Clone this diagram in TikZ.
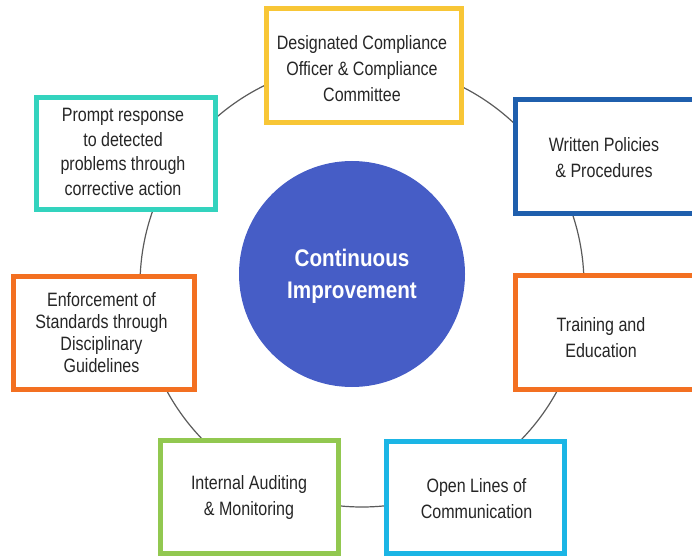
\documentclass[tikz,border=0pt]{standalone}
\usepackage{fontspec}
\setmainfont{Liberation Sans}
\newfontfamily\boxfont[FakeStretch=0.83]{Liberation Sans}
\newfontfamily\hubfont[FakeStretch=0.86]{Liberation Sans}

\definecolor{ringgray}{HTML}{5A5A5A}
\definecolor{txtgray}{HTML}{262626}
\definecolor{hubblue}{HTML}{465DC6}
\definecolor{cyellow}{HTML}{F8C636}
\definecolor{cblue}{HTML}{1F5FAD}
\definecolor{corange}{HTML}{F37021}
\definecolor{ccyan}{HTML}{1BB5E5}
\definecolor{cgreen}{HTML}{92C850}
\definecolor{cteal}{HTML}{33D3BE}

\tikzset{every picture/.style={line width=0.75pt}}
\tikzset{stagebox/.style={draw, fill=white, line width=3.75pt, inner sep=0pt},
  boxtext/.style={align=center, inner sep=0pt, text=txtgray, font=\boxfont\fontsize{14.5}{19.5}\selectfont}}

\begin{document}
\begin{tikzpicture}[x=0.75pt,y=0.75pt,yscale=-1,xscale=1]
\clip (0,0) rectangle (692,556);

%Shape: Circle [ring]
\draw [color=ringgray, line width=0.9] (362,285) circle [radius=222];

%Shape: Circle [hub]
\node (hub) [circle, fill=hubblue, minimum size=169.5pt, inner sep=0pt] at (352,274) {};

%Shape: Rectangle [officer]
\node (officer) [stagebox, draw=cyellow, minimum width=146.25pt, minimum height=85.5pt] at (363.5,66) {};
%Shape: Rectangle [policies]
\node (policies) [stagebox, draw=cblue, minimum width=134.25pt, minimum height=84.75pt] at (604.5,156.5) {};
%Shape: Rectangle [training]
\node (training) [stagebox, draw=corange, minimum width=134.25pt, minimum height=85.5pt] at (604.5,332) {};
%Shape: Rectangle [lines]
\node (lines) [stagebox, draw=ccyan, minimum width=133.5pt, minimum height=84pt] at (475,497) {};
%Shape: Rectangle [auditing]
\node (auditing) [stagebox, draw=cgreen, minimum width=133.5pt, minimum height=84.75pt] at (249,496.5) {};
%Shape: Rectangle [enforcement]
\node (enforcement) [stagebox, draw=corange, minimum width=135.75pt, minimum height=84.75pt] at (103.5,332.5) {};
%Shape: Rectangle [response]
\node (response) [stagebox, draw=cteal, minimum width=134.25pt, minimum height=83.25pt] at (125.5,153.5) {};

% Text Node
\node (hubtext) [align=center, inner sep=0pt, text=white, font=\hubfont\bfseries\fontsize{18}{24}\selectfont] at (352,276) {Continuous\\Improvement};
% Text Node
\node (officertext) [boxtext] at (362,69) {Designated Compliance\\Officer \& Compliance\\Committee};
% Text Node
\node (policiestext) [boxtext] at (604,157.5) {Written Policies\\\& Procedures};
% Text Node
\node (trainingtext) [boxtext] at (601,337.5) {Training and\\Education};
% Text Node
\node (linestext) [boxtext] at (476.5,499) {Open Lines of\\Communication};
% Text Node
\node (auditingtext) [boxtext] at (249,497) {Internal Auditing\\\& Monitoring};
% Text Node
\node (enforcementtext) [boxtext, font=\boxfont\fontsize{14.5}{16.5}\selectfont] at (101.5,333) {Enforcement of\\Standards through\\Disciplinary\\Guidelines};
% Text Node
\node (responsetext) [boxtext, font=\boxfont\fontsize{14.5}{18.5}\selectfont] at (123,152) {Prompt response\\to detected\\problems through\\corrective action};

\end{tikzpicture}
\end{document}
